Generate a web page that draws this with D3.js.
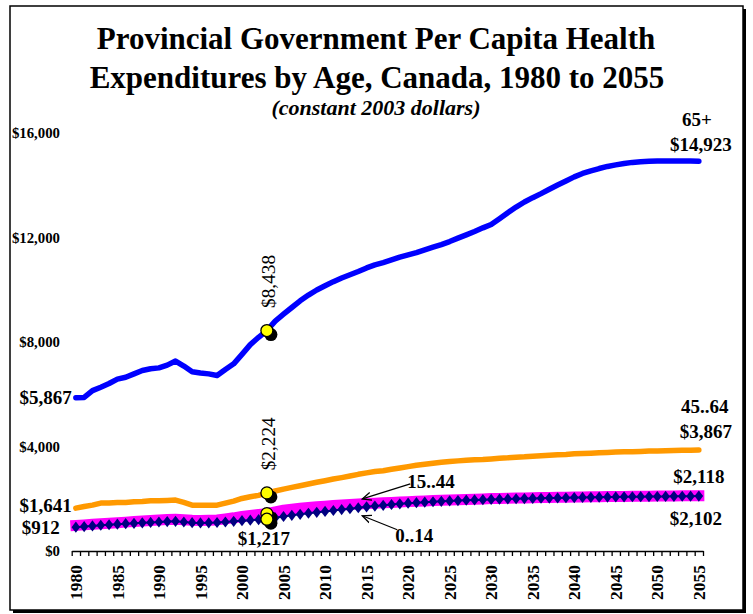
<!DOCTYPE html>
<html>
<head>
<meta charset="utf-8">
<script src="https://cdn.jsdelivr.net/npm/d3@7"></script>
<style>
  body { margin: 0; background: #fff; }
  text { font-family: "Liberation Serif", "Times New Roman", serif; font-weight: bold; fill: #000; }
</style>
</head>
<body>
<script>
// categories
const years = d3.range(1980, 2056)
const xLabels = d3.range(1980, 2056, 5)
const yTicks = [0, 4000, 8000, 12000, 16000]
const markYear = 2003

// per capita spending, constant 2003 dollars
const age65plus = [
  5867, 5880, 6140, 6270, 6410, 6580, 6650, 6780, 6910, 6975,
  7010, 7115, 7270, 7080, 6860, 6810, 6780, 6720, 6950, 7165,
  7525, 7900, 8180, 8438, 8800, 9065, 9320, 9575, 9795, 9990,
  10150, 10310, 10450, 10575, 10700, 10835, 10950, 11040, 11140, 11245,
  11335, 11420, 11525, 11630, 11730, 11845, 11975, 12100, 12230, 12370,
  12500, 12720, 12950, 13165, 13360, 13525, 13680, 13845, 14010, 14165,
  14320, 14450, 14550, 14640, 14720, 14780, 14835, 14875, 14900, 14915,
  14925, 14928, 14928, 14926, 14925, 14923
]
const age45to64 = [
  1641, 1705, 1755, 1835, 1835, 1860, 1860, 1885, 1895, 1920,
  1920, 1935, 1950, 1860, 1755, 1755, 1755, 1755, 1835, 1910,
  2010, 2075, 2130, 2224, 2295, 2370, 2435, 2500, 2565, 2630,
  2690, 2755, 2810, 2870, 2935, 2990, 3040, 3075, 3130, 3180,
  3230, 3280, 3320, 3360, 3395, 3425, 3450, 3475, 3490, 3500,
  3525, 3550, 3565, 3590, 3605, 3630, 3645, 3665, 3680, 3695,
  3720, 3735, 3745, 3760, 3770, 3785, 3795, 3800, 3810, 3825,
  3830, 3840, 3845, 3855, 3860, 3867
]
const age15to44 = [
  980, 1000, 1025, 1045, 1065, 1085, 1105, 1125, 1145, 1165,
  1190, 1205, 1215, 1195, 1175, 1165, 1175, 1190, 1230, 1270,
  1320, 1360, 1400, 1430, 1500, 1560, 1600, 1635, 1665, 1690,
  1715, 1740, 1760, 1780, 1800, 1815, 1830, 1845, 1860, 1875,
  1890, 1905, 1918, 1930, 1942, 1955, 1965, 1975, 1985, 1995,
  2005, 2012, 2019, 2026, 2032, 2038, 2044, 2050, 2055, 2060,
  2065, 2070, 2074, 2078, 2082, 2086, 2090, 2094, 2097, 2100,
  2104, 2107, 2110, 2113, 2116, 2118
]
const age0to14 = [
  912, 935, 960, 985, 1005, 1025, 1045, 1060, 1080, 1095,
  1110, 1125, 1135, 1110, 1085, 1075, 1080, 1090, 1110, 1135,
  1160, 1180, 1200, 1217, 1270, 1320, 1365, 1405, 1445, 1480,
  1515, 1550, 1585, 1620, 1655, 1690, 1720, 1750, 1780, 1805,
  1830, 1850, 1870, 1885, 1900, 1915, 1930, 1945, 1955, 1965,
  1975, 1985, 1993, 2000, 2007, 2014, 2020, 2026, 2032, 2038,
  2044, 2050, 2055, 2060, 2064, 2068, 2072, 2076, 2080, 2083,
  2086, 2089, 2092, 2095, 2099, 2102
]

const width = 753
const height = 614

const svg = d3.select('body').append('svg')
  .attr('width', width)
  .attr('height', height)

// chart frame with a drop shadow
svg.append('rect')
  .attr('x', 13).attr('y', 9)
  .attr('width', 733).attr('height', 604)
  .attr('fill', '#000')
svg.append('rect')
  .attr('x', 10).attr('y', 6)
  .attr('width', 733).attr('height', 604)
  .attr('fill', '#fff')
  .attr('stroke', '#000')
  .attr('stroke-width', 1.5)

// year centres sit between the tick marks
const x = d3.scaleLinear()
  .domain([1979.5, 2055.5])
  .range([71.7, 703])

const y = d3.scaleLinear()
  .domain([0, 16000])
  .range([551, 133])

const fmt = d => '$' + d3.format(',')(d)
const idx = yr => years.indexOf(yr)
const last = years[years.length - 1]
const first = years[0]

// titles
const titles = svg.append('g').attr('text-anchor', 'middle')
titles.append('text').attr('x', 376).attr('y', 49)
  .style('font-size', '31px').text('Provincial Government Per Capita Health')
titles.append('text').attr('x', 377).attr('y', 88)
  .style('font-size', '31px').text('Expenditures by Age, Canada, 1980 to 2055')
titles.append('text').attr('x', 376).attr('y', 115)
  .style('font-size', '22px').style('font-style', 'italic')
  .text('(constant 2003 dollars)')

// y tick labels (no axis line)
svg.append('g').selectAll('text')
  .data(yTicks)
  .join('text')
  .attr('x', 60)
  .attr('y', d => y(d))
  .attr('dy', '0.35em')
  .attr('text-anchor', 'end')
  .style('font-size', '14.8px')
  .text(fmt)

// x axis: a tick between every year
svg.append('g')
  .attr('transform', `translate(0,${y(0)})`)
  .call(d3.axisBottom(x)
    .tickValues(d3.range(1979.5, 2056, 1))
    .tickFormat('')
    .tickSizeInner(5)
    .tickSizeOuter(0))
  .call(g => g.selectAll('line, path').attr('stroke', '#000').attr('stroke-width', 1.3))

svg.append('g').selectAll('text')
  .data(xLabels)
  .join('text')
  .attr('transform', d => `translate(${x(d)},${y(0) + 14}) rotate(-90)`)
  .attr('text-anchor', 'end')
  .attr('dy', '0.35em')
  .style('font-size', '17.5px')
  .text(d => d)

const line = d3.line()
  .x((d, i) => x(years[i]))
  .y(d => y(d))

// 15..44: thick magenta band
svg.append('path')
  .datum(age15to44)
  .attr('d', line)
  .attr('fill', 'none')
  .attr('stroke', '#ff00ff')
  .attr('stroke-width', 11)
  .attr('stroke-linecap', 'square')
  .attr('stroke-linejoin', 'round')

// 0..14: navy line with diamonds
svg.append('path')
  .datum(age0to14)
  .attr('d', line)
  .attr('fill', 'none')
  .attr('stroke', '#000080')
  .attr('stroke-width', 2)

svg.append('g').selectAll('path')
  .data(age0to14)
  .join('path')
  .attr('transform', (d, i) => `translate(${x(years[i])},${y(d)})`)
  .attr('d', 'M0,-5.6L4.3,0L0,5.6L-4.3,0Z')
  .attr('fill', '#000080')

// 45..64 and 65+
svg.append('path')
  .datum(age45to64)
  .attr('d', line)
  .attr('fill', 'none')
  .attr('stroke', '#ff9900')
  .attr('stroke-width', 5.5)
  .attr('stroke-linecap', 'round')
  .attr('stroke-linejoin', 'round')

svg.append('path')
  .datum(age65plus)
  .attr('d', line)
  .attr('fill', 'none')
  .attr('stroke', '#0000ff')
  .attr('stroke-width', 5.5)
  .attr('stroke-linecap', 'round')
  .attr('stroke-linejoin', 'round')

// 2003 markers
const markSeries = [age65plus, age45to64, age15to44, age0to14]
const marks = svg.append('g').selectAll('g')
  .data(markSeries.map(s => s[idx(markYear)]))
  .join('g')
  .attr('transform', d => `translate(${x(markYear)},${y(d)})`)
marks.append('circle')
  .attr('cx', 4).attr('cy', 4).attr('r', 6.5)
  .attr('fill', '#000')
marks.append('circle')
  .attr('r', 6)
  .attr('fill', '#ffff00')
  .attr('stroke', '#000')
  .attr('stroke-width', 1.3)

// value labels
const labels = svg.append('g').style('font-size', '19px')

function label(txt, px, py, anchor) {
  labels.append('text')
    .attr('x', px).attr('y', py)
    .attr('text-anchor', anchor)
    .text(txt)
}

const x0 = x(first)
const xe = x(last)
const ie = years.length - 1

label(fmt(age65plus[0]), x0 - 4, y(age65plus[0]) + 6, 'end')
label(fmt(age45to64[0]), x0 - 4, y(age45to64[0]) + 4, 'end')
label(fmt(age0to14[0]), x0 - 16, y(age0to14[0]) + 7, 'end')

label('65+', xe - 2, y(age65plus[ie]) - 35, 'middle')
label(fmt(age65plus[ie]), xe + 2, y(age65plus[ie]) - 10, 'middle')
label('45..64', xe + 6, y(age45to64[ie]) - 37, 'middle')
label(fmt(age45to64[ie]), xe + 7, y(age45to64[ie]) - 12, 'middle')
label(fmt(age15to44[ie]), xe, y(age15to44[ie]) - 13, 'middle')
label(fmt(age0to14[ie]), xe - 3, y(age0to14[ie]) + 29, 'middle')

const xm = x(markYear)
const im = idx(markYear)
label(fmt(age0to14[im]), xm - 3, y(age0to14[im]) + 26, 'middle')

// rotated values above the 2003 markers
labels.selectAll('.rot')
  .data([age65plus[im], age45to64[im]])
  .join('text')
  .attr('class', 'rot')
  .attr('transform', d => `translate(${xm + 8.4},${y(d) - 22.6}) rotate(-90)`)
  .style('font-weight', 'normal')
  .style('font-size', '19.3px')
  .text(fmt)

// arrows pointing at the two lower series
const defs = svg.append('defs')
defs.append('marker')
  .attr('id', 'arrow')
  .attr('viewBox', '0 0 10 10')
  .attr('refX', 9).attr('refY', 5)
  .attr('markerWidth', 10).attr('markerHeight', 10)
  .attr('markerUnits', 'userSpaceOnUse')
  .attr('orient', 'auto')
  .append('path')
  .attr('d', 'M0,1L9,5L0,9')
  .attr('fill', 'none')
  .attr('stroke', '#000')
  .attr('stroke-width', 1.3)

const arrowYear = 2014
const xa = x(arrowYear)
const ia = idx(arrowYear)
const ya15 = y(age15to44[ia])
const ya0 = y(age0to14[ia])

svg.append('line')
  .attr('x1', xa + 52).attr('y1', ya15 - 20)
  .attr('x2', xa + 4).attr('y2', ya15 - 5)
  .attr('stroke', '#000').attr('stroke-width', 1.3)
  .attr('marker-end', 'url(#arrow)')
svg.append('line')
  .attr('x1', xa + 39).attr('y1', ya0 + 22)
  .attr('x2', xa + 4).attr('y2', ya0 + 8)
  .attr('stroke', '#000').attr('stroke-width', 1.3)
  .attr('marker-end', 'url(#arrow)')

label('15..44', xa + 49, ya15 - 16, 'start')
label('0..14', xa + 37, ya0 + 34, 'start')
</script>
</body>
</html>
